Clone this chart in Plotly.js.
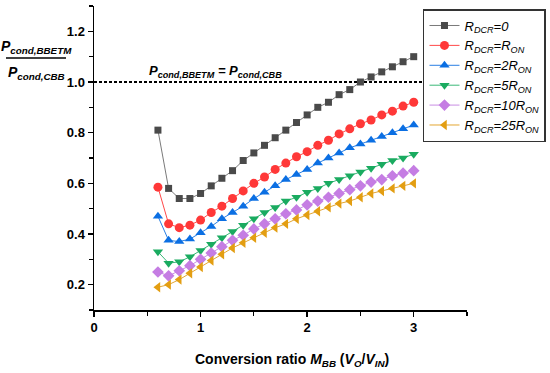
<!DOCTYPE html>
<html><head><meta charset="utf-8">
<script src="https://cdn.plot.ly/plotly-3.0.1.min.js"></script>
<style>body{margin:0;background:#fff}#chart{width:550px;height:373px}</style>
</head><body><div id="chart"></div>
<script>
const xVals = [0.6,0.7,0.8,0.9,1.0,1.1,1.2,1.3,1.4,1.5,1.6,1.7,1.8,1.9,2.0,2.1,2.2,2.3,2.4,2.5,2.6,2.7,2.8,2.9,3.0];
const r0   = [0.81,0.58,0.54,0.54,0.56,0.59,0.62,0.65,0.69,0.72,0.75,0.78,0.81,0.84,0.87,0.90,0.92,0.95,0.97,1.00,1.02,1.04,1.06,1.08,1.10];
const r1   = [0.585,0.44,0.425,0.435,0.455,0.485,0.51,0.54,0.57,0.60,0.625,0.655,0.68,0.705,0.725,0.75,0.77,0.795,0.815,0.835,0.85,0.87,0.885,0.905,0.92];
const r2   = [0.47,0.375,0.37,0.38,0.405,0.43,0.46,0.485,0.51,0.54,0.565,0.59,0.615,0.635,0.655,0.68,0.70,0.72,0.74,0.755,0.77,0.785,0.80,0.815,0.83];
const r5   = [0.33,0.285,0.29,0.31,0.335,0.36,0.385,0.41,0.435,0.46,0.485,0.505,0.53,0.545,0.565,0.58,0.60,0.615,0.63,0.645,0.66,0.675,0.69,0.70,0.715];
const r10  = [0.25,0.235,0.255,0.275,0.30,0.325,0.35,0.375,0.395,0.42,0.44,0.46,0.48,0.495,0.515,0.53,0.545,0.56,0.575,0.59,0.605,0.615,0.63,0.64,0.65];
const r25  = [0.19,0.20,0.22,0.245,0.27,0.295,0.32,0.345,0.365,0.385,0.405,0.425,0.44,0.46,0.475,0.49,0.505,0.52,0.53,0.545,0.56,0.57,0.58,0.59,0.60];
const refX = [0, 3.5];
const refY = [1.0, 1.0];
const seriesNames = ['<i>R<sub>DCR</sub>=0</i>','<i>R<sub>DCR</sub>=R<sub>ON</sub></i>','<i>R<sub>DCR</sub>=2R<sub>ON</sub></i>','<i>R<sub>DCR</sub>=5R<sub>ON</sub></i>','<i>R<sub>DCR</sub>=10R<sub>ON</sub></i>','<i>R<sub>DCR</sub>=25R<sub>ON</sub></i>'];

const series = [r0, r1, r2, r5, r10, r25];
const markerColors = ['#4a4a4a','#ff3838','#0b6fe3','#1aab60','#c57de3','#e39e12'];
const lineColors = ['#7a7a7a','#ff4848','#2a7fe3','#3ab878','#c98ee3','#e3a632'];
const symbols = ['square','circle','triangle-up','triangle-down','diamond','triangle-left'];
const sizes = [7,9,9,9,9,9];

const traces = series.map((y, i) => ({
  x: xVals, y: y, type: 'scatter', mode: 'lines+markers', name: seriesNames[i],
  line: {color: lineColors[i], width: 1},
  marker: {symbol: symbols[i], size: sizes[i], color: markerColors[i]}
}));
traces.unshift({x: refX, y: refY, type: 'scatter', mode: 'lines', showlegend: false,
  line: {color: '#000', width: 2, dash: '3px,2px'}, hoverinfo: 'skip'});

const layout = {
  width: 550, height: 373,
  margin: {l: 94, r: 83, t: 6, b: 63, autoexpand: false},
  paper_bgcolor: '#fff', plot_bgcolor: '#fff',
  font: {family: 'Liberation Sans, Arial', color: '#000'},
  showlegend: true,
  legend: {x: 0.882, y: 0.99, xanchor: 'left', yanchor: 'top', bgcolor: '#fff',
    bordercolor: '#333', borderwidth: 1.5, font: {family: 'Liberation Sans, Arial', size: 13, color: '#000'},
    itemwidth: 30, tracegroupgap: 0},
  xaxis: {range: [0, 3.5], tick0: 0, dtick: 1, showgrid: false, zeroline: false,
    showline: true, linecolor: '#000', linewidth: 1.5, ticks: 'outside', ticklen: 5, tickwidth: 1.5, tickcolor: '#000',
    tickfont: {family: 'Liberation Sans, Arial', size: 13, color: '#000', weight: 'bold'},
    minor: {dtick: 0.5, tick0: 0, ticks: 'outside', ticklen: 4, tickwidth: 1.2, tickcolor: '#000', showgrid: false}},
  yaxis: {range: [0.1, 1.3], tick0: 0.2, dtick: 0.2, tickformat: '.1f', showgrid: false, zeroline: false,
    showline: true, linecolor: '#000', linewidth: 1.5, ticks: 'outside', ticklen: 5, tickwidth: 1.5, tickcolor: '#000',
    tickfont: {family: 'Liberation Sans, Arial', size: 13, color: '#000', weight: 'bold'},
    minor: {dtick: 0.1, tick0: 0.1, ticks: 'outside', ticklen: 4, tickwidth: 1.2, tickcolor: '#000', showgrid: false}},
  annotations: [
    {xref: 'paper', yref: 'paper', x: (292-94)/373, y: -(360-310)/304, xanchor: 'center', yanchor: 'middle', showarrow: false,
     text: '<b>Conversion ratio <i>M<sub>BB</sub></i> (<i>V<sub>O</sub></i>/<i>V<sub>IN</sub></i>)</b>',
     font: {family: 'Liberation Sans, Arial', size: 14, color: '#000'}},
    {xref: 'x', yref: 'y', x: 0.5, y: 1.0, xanchor: 'left', yanchor: 'bottom', showarrow: false, yshift: 0,
     text: '<b><i>P<sub>cond,BBETM</sub> = P<sub>cond,CBB</sub></i></b>',
     font: {family: 'Liberation Sans, Arial', size: 13, color: '#000'}},
    {xref: 'paper', yref: 'paper', x: -(94-36)/373, y: (310-47)/304, xanchor: 'center', yanchor: 'middle', showarrow: false,
     text: '<b><i>P<sub>cond,BBETM</sub></i></b>', font: {family: 'Liberation Sans, Arial', size: 14, color: '#000'}},
    {xref: 'paper', yref: 'paper', x: -(94-36)/373, y: (310-73)/304, xanchor: 'center', yanchor: 'middle', showarrow: false,
     text: '<b><i>P<sub>cond,CBB</sub></i></b>', font: {family: 'Liberation Sans, Arial', size: 14, color: '#000'}}
  ],
  shapes: [
    {type: 'line', xref: 'paper', yref: 'paper', x0: -(94-6)/373, x1: -(94-66)/373, y0: (310-58)/304, y1: (310-58)/304,
     line: {color: '#000', width: 1.5}}
  ]
};
Plotly.newPlot('chart', traces, layout, {displayModeBar: false, staticPlot: true});
</script></body></html>
